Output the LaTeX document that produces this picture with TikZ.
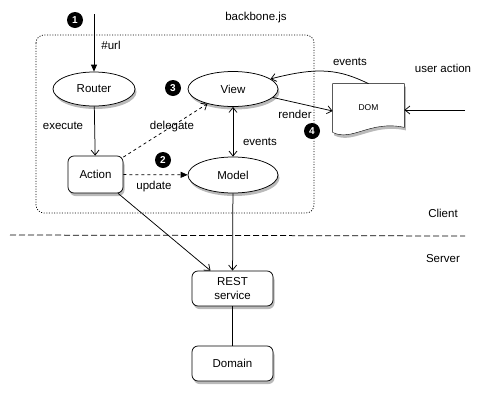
\documentclass[tikz,border=0pt]{standalone}
\usepackage{fontspec}
\setmainfont{Liberation Sans}
\usetikzlibrary{arrows.meta}
\usetikzlibrary{shapes.geometric, shadows, backgrounds}
\tikzset{
	soft shadow/.style={drop shadow={shadow xshift=1.5pt, shadow yshift=-3pt, opacity=0.45, fill=black!60}},
	oval/.style={ellipse, draw, fill=white, soft shadow, inner sep=0pt, minimum width=90pt, minimum height=35pt},
	box/.style={rectangle, rounded corners=6pt, draw, fill=white, soft shadow, inner sep=0pt, minimum width=81pt, minimum height=35pt, align=center},
	numdot/.style={circle, fill=black, text=white, inner sep=0pt, minimum size=16pt, font=\fontsize{10}{12}\selectfont\bfseries},
	barb/.style={-{Straight Barb[length=5pt, width=8pt]}},
	barbs both/.style={{Straight Barb[length=5pt, width=8pt]}-{Straight Barb[length=5pt, width=8pt]}},
	solid tip/.style={-{Triangle[length=7pt, width=6pt]}},
	mydots/.style={dash pattern=on 1pt off 1.6pt, rounded corners=8pt},
	mydash/.style={dashed, dash pattern=on 6pt off 3pt}
}
\begin{document}
\begin{tikzpicture}[x=1pt, y=-1pt, font=\fontsize{11.5}{13.5}\selectfont, line width=0.75pt]
	\useasboundingbox (0,0) rectangle (482,405);
	\draw[mydots] (36,35) rectangle (314,213);
	\node (bbjs) at (256,18) {backbone.js};
	\node[oval, minimum width=82pt, minimum height=34pt] (router) at (94,89) {Router};
	\node[box, minimum width=55pt, minimum height=37pt] (action) at (95.5,174.5) {Action};
	\node[oval] (view) at (233,89) {View};
	\node[oval, minimum height=36pt] (model) at (233,175) {Model};
	\node[minimum width=71pt, minimum height=48pt, inner sep=0pt, font=\fontsize{8.5}{10}\selectfont] (dom) at (368.5,108) {DOM};
	\begin{scope}[on background layer]
		\draw[fill=white, soft shadow] (dom.south west) -- (dom.north west) -- (dom.north east) -- ([yshift=5pt]dom.south east) .. controls (370,120) and (352,142) .. (dom.south west) -- cycle;
	\end{scope}
	\node[box] (rest) at (232.5,288.5) {REST\\service};
	\node[box] (domain) at (232.5,363.5) {Domain};
	\node[numdot] (n1) at (75,20) {1};
	\node[numdot] (n2) at (163,160) {2};
	\node[numdot] (n3) at (173,88) {3};
	\node[numdot] (n4) at (312,131) {4};
	\node (lurl) at (111,45) {\#url};
	\node (lexec) at (63,126) {execute};
	\node (ldeleg) at (172,127) {delegate};
	\node (lupdate) at (154,187) {update};
	\node (levents) at (260,142) {events};
	\node (lrender) at (295,114) {render};
	\node (ldomev) at (350,62) {events};
	\node (useract) at (443,68) {user action};
	\node (client) at (443,213) {Client};
	\node (server) at (443,259) {Server};
	\coordinate (urlstart) at (94,14);
	\coordinate (userin) at (465,110);
	\coordinate (sepL) at (10,235);
	\coordinate (sepR) at (465,236);
	\draw[solid tip] (urlstart) -- (router);
	\draw[barb] (router) -- (action);
	\draw[barb, dashed] (action.32) -- (view.210);
	\draw[solid tip, dashed] (action) -- (model);
	\draw[barbs both] (view) -- (model);
	\draw[barb] (view.-12) -- ([yshift=-3pt]dom.west);
	\draw[barb] (dom.north) .. controls (340,70) and (320,66) .. (view.15);
	\draw[barb] (userin) -- ([yshift=-2pt]dom.east);
	\draw[barb] (model) -- (rest);
	\draw[barb] (action) -- ([xshift=-22pt]rest.north);
	\draw (rest) -- (domain);
	\draw[mydash] (sepL) -- (sepR);
\end{tikzpicture}
\end{document}
